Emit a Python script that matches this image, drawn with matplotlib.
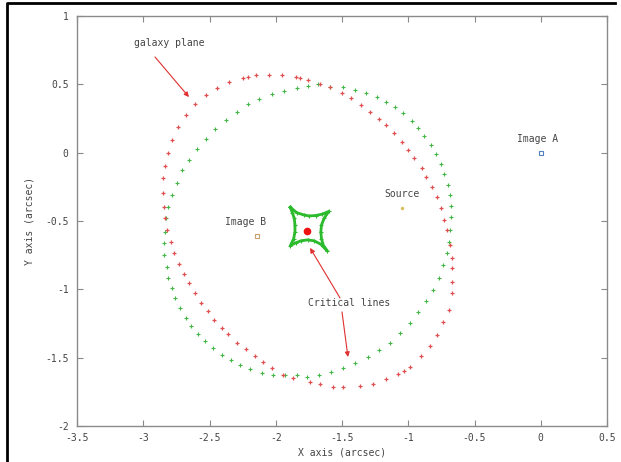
import matplotlib
matplotlib.use("Agg")
import matplotlib.pyplot as plt
from matplotlib.lines import Line2D

# galaxy plane (red) points, arcsec
red_x = [-2.609, -2.526, -2.443, -2.353, -2.247, -2.209, -2.149, -2.051, -1.953, -1.847,
         -1.817, -1.757, -1.666, -1.591, -1.500, -1.432, -1.357, -1.289, -1.221, -1.168,
         -1.108, -1.047, -1.002, -0.957, -0.896, -0.866, -0.821, -0.783, -0.753, -0.730,
         -0.708, -0.685, -0.670, -0.670, -0.670, -0.670, -0.693, -0.738, -0.783, -0.836,
         -0.904, -0.987, -1.032, -1.077, -1.168, -1.266, -1.364, -1.492, -1.568, -1.666,
         -1.742, -1.870, -1.945, -2.028, -2.096, -2.157, -2.225, -2.292, -2.360, -2.406,
         -2.466, -2.511, -2.564, -2.609, -2.655, -2.692, -2.730, -2.768, -2.791, -2.821,
         -2.836, -2.843, -2.851, -2.851, -2.836, -2.813, -2.783, -2.738, -2.677]
red_y = [0.356, 0.422, 0.473, 0.517, 0.546, 0.554, 0.568, 0.568, 0.568, 0.554,
         0.546, 0.532, 0.503, 0.481, 0.437, 0.400, 0.349, 0.298, 0.247, 0.203,
         0.144, 0.078, 0.020, -0.039, -0.112, -0.178, -0.251, -0.324, -0.404, -0.492,
         -0.565, -0.675, -0.770, -0.843, -0.946, -1.026, -1.151, -1.238, -1.334, -1.414,
         -1.487, -1.568, -1.597, -1.619, -1.655, -1.692, -1.707, -1.714, -1.714, -1.692,
         -1.677, -1.648, -1.626, -1.575, -1.531, -1.487, -1.436, -1.392, -1.326, -1.282,
         -1.224, -1.158, -1.099, -1.026, -0.953, -0.887, -0.814, -0.734, -0.653, -0.565,
         -0.478, -0.397, -0.295, -0.185, -0.097, -0.002, 0.093, 0.188, 0.276]

# critical line (green) points
grn_x = [-2.708, -2.655, -2.594, -2.526, -2.459, -2.375, -2.292, -2.209, -2.126, -2.028,
         -1.938, -1.840, -1.757, -1.681, -1.591, -1.492, -1.402, -1.319, -1.236, -1.168,
         -1.100, -1.040, -0.972, -0.927, -0.881, -0.828, -0.791, -0.753, -0.730, -0.700,
         -0.685, -0.677, -0.677, -0.685, -0.693, -0.708, -0.738, -0.768, -0.813, -0.866,
         -0.927, -0.987, -1.062, -1.138, -1.221, -1.304, -1.402, -1.492, -1.583, -1.674,
         -1.764, -1.840, -1.930, -2.021, -2.104, -2.194, -2.270, -2.338, -2.406, -2.474,
         -2.534, -2.587, -2.640, -2.677, -2.723, -2.760, -2.783, -2.813, -2.821, -2.843,
         -2.843, -2.836, -2.828, -2.813, -2.783, -2.745]
grn_y = [-0.127, -0.053, 0.027, 0.100, 0.173, 0.239, 0.298, 0.356, 0.393, 0.429,
         0.451, 0.473, 0.488, 0.503, 0.481, 0.481, 0.459, 0.437, 0.407, 0.371,
         0.334, 0.290, 0.232, 0.181, 0.122, 0.056, -0.009, -0.083, -0.156, -0.236,
         -0.309, -0.390, -0.470, -0.565, -0.653, -0.734, -0.821, -0.917, -1.004, -1.085,
         -1.165, -1.246, -1.319, -1.392, -1.443, -1.494, -1.538, -1.575, -1.604, -1.626,
         -1.641, -1.626, -1.626, -1.626, -1.611, -1.582, -1.553, -1.516, -1.480, -1.429,
         -1.377, -1.326, -1.268, -1.209, -1.136, -1.063, -0.990, -0.917, -0.836, -0.748,
         -0.660, -0.580, -0.478, -0.397, -0.309, -0.222]

# caustic (green star)
star_x = [-1.89, -1.84, -1.79, -1.75, -1.70, -1.65, -1.60, -1.635, -1.655, -1.66,
          -1.655, -1.64, -1.61, -1.66, -1.71, -1.76, -1.81, -1.85, -1.89, -1.865,
          -1.855, -1.855, -1.86, -1.875, -1.89]
star_y = [-0.40, -0.44, -0.455, -0.463, -0.46, -0.45, -0.43, -0.48, -0.53, -0.58,
          -0.63, -0.68, -0.72, -0.67, -0.645, -0.638, -0.645, -0.66, -0.68, -0.63,
          -0.58, -0.53, -0.48, -0.44, -0.40]

lens = (-1.764, -0.573)
source = (-1.047, -0.405)
image_a = (0.0, 0.0)
image_b = (-2.142, -0.609)

xticks = [-3.5, -3, -2.5, -2, -1.5, -1, -0.5, 0, 0.5]
yticks = [-2, -1.5, -1, -0.5, 0, 0.5, 1]

mono = "DejaVu Sans Mono"
fs = 7
grey = "#8a8a8a"
txt = "#444444"

fig = plt.figure(figsize=(6.21, 4.62), dpi=100)
ax = fig.add_axes([77/621, 36/462, 530/621, 410/462])

ax.plot(grn_x, grn_y, ls="none", marker="+", ms=3.5, mew=0.8, color="#44b844")
ax.plot(red_x, red_y, ls="none", marker="+", ms=3, mew=0.9, color="#e05050")
ax.plot(star_x, star_y, color="#2cbb2c", lw=2.0, marker="+", ms=3, mew=0.8)
ax.plot(*lens, marker="o", ms=4.5, color="#ee1111", ls="none")
ax.plot(*source, marker="o", ms=1.5, color="#d8c060", ls="none")
ax.plot(*image_a, marker="s", ms=2.5, mfc="none", mec="#5080c0", mew=0.8, ls="none")
ax.plot(*image_b, marker="s", ms=2.5, mfc="none", mec="#c8a070", mew=0.8, ls="none")

ax.text(-2.806, 0.802, "galaxy plane", family=mono, fontsize=fs, color=txt, ha="center", va="center")
ax.text(-0.021, 0.100, "Image A", family=mono, fontsize=fs, color=txt, ha="center", va="center")
ax.text(-2.225, -0.507, "Image B", family=mono, fontsize=fs, color=txt, ha="center", va="center")
ax.text(-1.047, -0.302, "Source", family=mono, fontsize=fs, color=txt, ha="center", va="center")
ax.text(-1.447, -1.099, "Critical lines", family=mono, fontsize=fs, color=txt, ha="center", va="center")

arrow = dict(arrowstyle="-|>", color="#e03030", lw=0.8, mutation_scale=7, shrinkA=0, shrinkB=0)
ax.annotate("", xy=(-2.655, 0.407), xytext=(-2.911, 0.700), arrowprops=arrow)
ax.annotate("", xy=(-1.741, -0.697), xytext=(-1.515, -1.063), arrowprops=arrow)
ax.annotate("", xy=(-1.455, -1.495), xytext=(-1.500, -1.165), arrowprops=arrow)

ax.set_xlim(-3.5, 0.5)
ax.set_ylim(-2, 1)
ax.set_xticks(xticks)
ax.set_yticks(yticks)
ax.set_xticklabels([f"{v:g}" for v in xticks], family=mono, fontsize=fs, color=txt)
ax.set_yticklabels([f"{v:g}" for v in yticks], family=mono, fontsize=fs, color=txt)
ax.tick_params(direction="in", length=4, width=0.8, color=grey, top=True, right=True)
ax.tick_params(axis="x", pad=5)
ax.tick_params(axis="y", pad=6)
for s in ax.spines.values():
    s.set_color(grey)
    s.set_linewidth(1.0)

ax.set_xlabel("X axis (arcsec)", family=mono, fontsize=fs, color=txt, labelpad=3)
ax.set_ylabel("Y axis (arcsec)", family=mono, fontsize=fs, color=txt, labelpad=8)

# black frame on the left and top edges
fig.add_artist(Line2D([7/621, 7/621, 615/621], [0, 1 - 3/462, 1 - 3/462],
                      transform=fig.transFigure, color="black", lw=2))

fig.savefig("out.png", dpi=100)
